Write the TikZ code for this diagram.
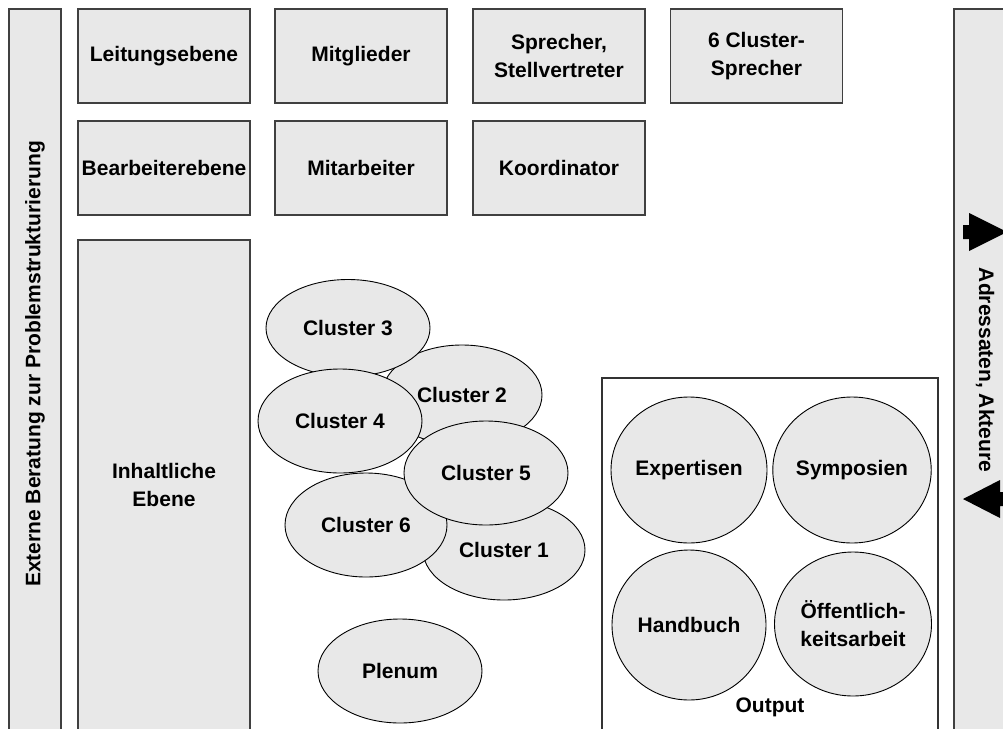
\documentclass[tikz,border=0pt]{standalone}
\usepackage{fontspec}
\setmainfont{Liberation Sans}
\usetikzlibrary{shapes.geometric}

\definecolor{boxgray}{HTML}{E8E8E8}
\newcommand{\diagfont}{\fontsize{21}{28}\selectfont\bfseries}

\tikzstyle{side bar}=[draw=black!75,line width=1.2pt,fill=boxgray,minimum height=52pt,inner sep=0pt,font=\diagfont]
\tikzstyle{level box}=[draw=black!75,line width=1.2pt,fill=boxgray,minimum width=172pt,minimum height=94pt,inner sep=0pt,align=center,font=\diagfont]
\tikzstyle{cluster}=[ellipse,draw=black,line width=0.9pt,fill=boxgray,minimum width=164pt,minimum height=104pt,inner sep=0pt,font=\diagfont]
\tikzstyle{product}=[ellipse,draw=black,line width=0.9pt,fill=boxgray,minimum width=156pt,minimum height=146pt,inner sep=0pt,align=center,font=\diagfont]
\tikzstyle{block arrow}=[fill=black]

\begin{document}
\begin{tikzpicture}[x=1pt,y=-1pt]
			\clip (0,0) rectangle (1003,728);
			% side bars
			\node[side bar,minimum width=748pt,rotate=90] (beratung) at (35,383) {};
			\node[font=\diagfont,rotate=90] (beratunglabel) at (35,364) {Externe Beratung zur Problemstrukturierung};
			\node[side bar,minimum width=722pt,minimum height=62pt,rotate=-90] (adressaten) at (985,370) {Adressaten, Akteure};
			\fill[block arrow] (963,225) -- (969,225) -- (969,213) -- (1007,232) -- (969,251) -- (969,239) -- (963,239) -- cycle;
			\fill[block arrow] (963,499) -- (1000,480) -- (1000,492) -- (1010,492) -- (1010,506) -- (1000,506) -- (1000,518) -- cycle;
			% levels
			\node[level box] (leitung) at (164,56) {Leitungsebene};
			\node[level box] (mitglieder) at (361,56) {Mitglieder};
			\node[level box] (sprecher) at (559,56) {Sprecher,\\Stellvertreter};
			\node[level box] (clustersprecher) at (756.5,56) {6 Cluster-\\Sprecher};
			\node[level box] (bearbeiter) at (164,168) {Bearbeiterebene};
			\node[level box] (mitarbeiter) at (361,168) {Mitarbeiter};
			\node[level box] (koordinator) at (559,168) {Koordinator};
			\node[level box,minimum height=500pt] (inhalt) at (164,490) {};
			\node[font=\diagfont,align=center] (inhaltlabel) at (164,485) {Inhaltliche\\Ebene};
			% clusters
			\node[cluster,minimum width=160pt,minimum height=100pt] (c2) at (462,395) {Cluster 2};
			\node[cluster,minimum height=97pt] (c3) at (348,328) {Cluster 3};
			\node[cluster] (c4) at (340,421) {Cluster 4};
			\node[cluster,minimum width=162pt,minimum height=100pt] (c1) at (504,550) {Cluster 1};
			\node[cluster,minimum width=162pt] (c6) at (366,525) {Cluster 6};
			\node[cluster] (c5) at (486,473) {Cluster 5};
			\node[cluster] (plenum) at (400,671) {Plenum};
			% output
			\node[draw=black!80,line width=1.2pt,fill=white,minimum width=336pt,minimum height=362pt] (output) at (770,559) {};
			\node[font=\diagfont] (outputlabel) at (770,707) {Output};
			\node[product] (expertisen) at (689,470) {Expertisen};
			\node[product] (symposien) at (852,470) {Symposien};
			\node[product,minimum width=154pt,minimum height=150pt] (handbuch) at (689,625) {Handbuch};
			\node[product,minimum width=157pt,minimum height=144pt] (oeffentlich) at (853,624) {Öffentlich-\\keitsarbeit};
\end{tikzpicture}
\end{document}
